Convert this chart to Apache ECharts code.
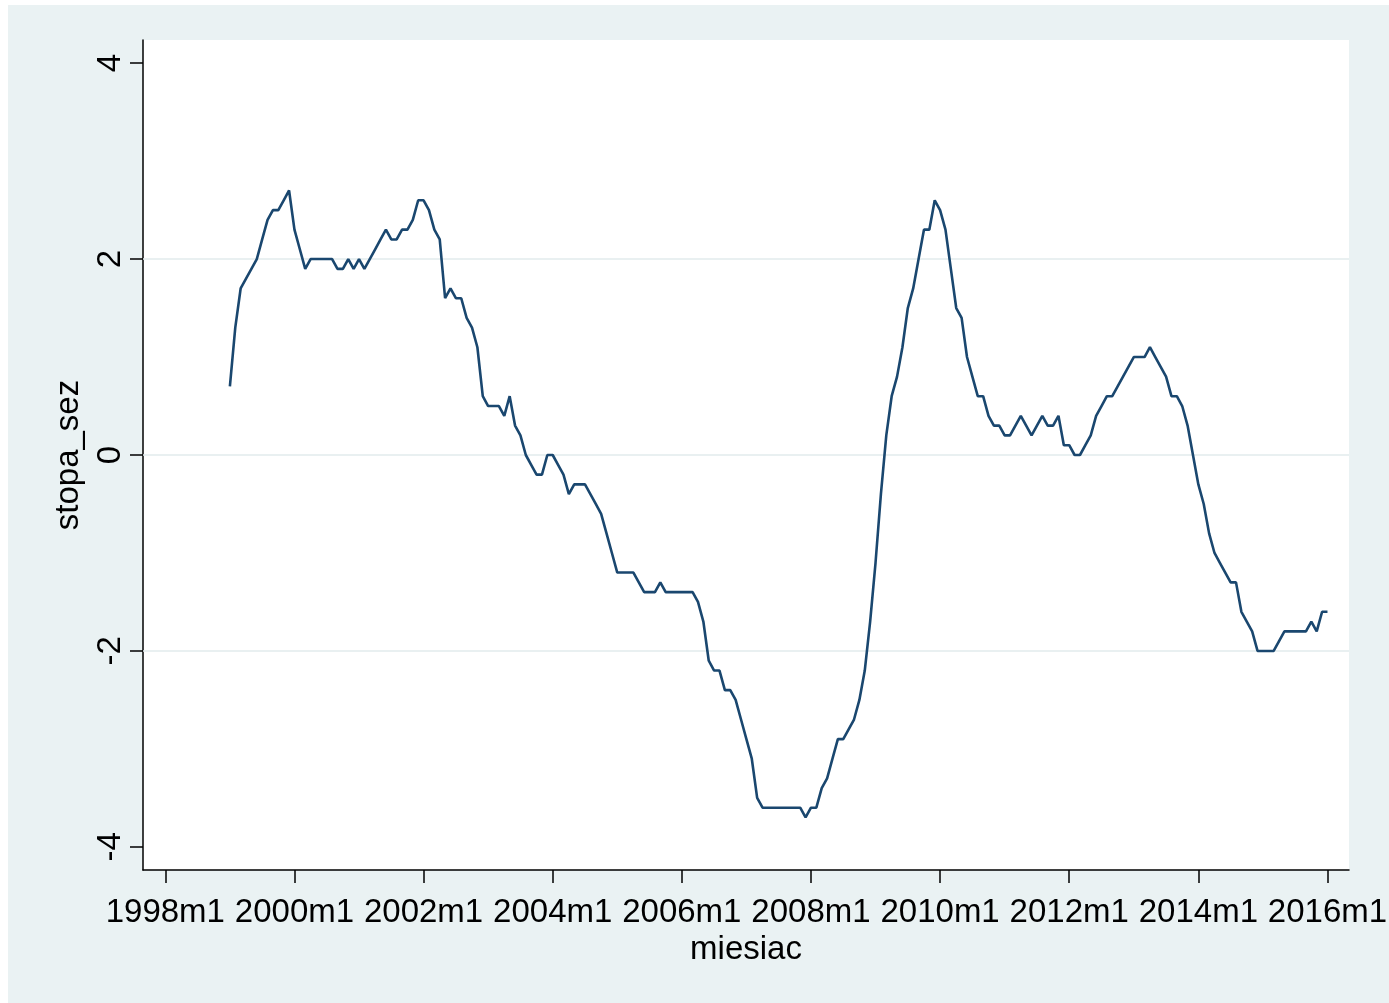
<!DOCTYPE html>
<html>
<head>
<meta charset="utf-8">
<script src="https://cdn.jsdelivr.net/npm/echarts@6/dist/echarts.min.js"></script>
<style>
html,body{margin:0;padding:0;background:#ffffff;}
#c{position:absolute;left:8px;top:5px;width:1381px;height:998px;}
</style>
</head>
<body>
<div id="c"></div>
<script>
// months counted from 1998m1 (index 0); series starts at 1999m1
const baseYear = 1998;
const firstMonthIndex = 12;

// stopa_sez, monthly, 1999m1 .. 2016m1 (one row per year)
const stopaSez = [
  0.7, 1.3, 1.7, 1.8, 1.9, 2.0, 2.2, 2.4, 2.5, 2.5, 2.6, 2.7,          // 1999
  2.3, 2.1, 1.9, 2.0, 2.0, 2.0, 2.0, 2.0, 1.9, 1.9, 2.0, 1.9,          // 2000
  2.0, 1.9, 2.0, 2.1, 2.2, 2.3, 2.2, 2.2, 2.3, 2.3, 2.4, 2.6,          // 2001
  2.6, 2.5, 2.3, 2.2, 1.6, 1.7, 1.6, 1.6, 1.4, 1.3, 1.1, 0.6,          // 2002
  0.5, 0.5, 0.5, 0.4, 0.6, 0.3, 0.2, 0.0, -0.1, -0.2, -0.2, 0.0,       // 2003
  0.0, -0.1, -0.2, -0.4, -0.3, -0.3, -0.3, -0.4, -0.5, -0.6, -0.8, -1.0, // 2004
  -1.2, -1.2, -1.2, -1.2, -1.3, -1.4, -1.4, -1.4, -1.3, -1.4, -1.4, -1.4, // 2005
  -1.4, -1.4, -1.4, -1.5, -1.7, -2.1, -2.2, -2.2, -2.4, -2.4, -2.5, -2.7, // 2006
  -2.9, -3.1, -3.5, -3.6, -3.6, -3.6, -3.6, -3.6, -3.6, -3.6, -3.6, -3.7, // 2007
  -3.6, -3.6, -3.4, -3.3, -3.1, -2.9, -2.9, -2.8, -2.7, -2.5, -2.2, -1.7, // 2008
  -1.1, -0.4, 0.2, 0.6, 0.8, 1.1, 1.5, 1.7, 2.0, 2.3, 2.3, 2.6,        // 2009
  2.5, 2.3, 1.9, 1.5, 1.4, 1.0, 0.8, 0.6, 0.6, 0.4, 0.3, 0.3,          // 2010
  0.2, 0.2, 0.3, 0.4, 0.3, 0.2, 0.3, 0.4, 0.3, 0.3, 0.4, 0.1,          // 2011
  0.1, 0.0, 0.0, 0.1, 0.2, 0.4, 0.5, 0.6, 0.6, 0.7, 0.8, 0.9,          // 2012
  1.0, 1.0, 1.0, 1.1, 1.0, 0.9, 0.8, 0.6, 0.6, 0.5, 0.3, 0.0,          // 2013
  -0.3, -0.5, -0.8, -1.0, -1.1, -1.2, -1.3, -1.3, -1.6, -1.7, -1.8, -2.0, // 2014
  -2.0, -2.0, -2.0, -1.9, -1.8, -1.8, -1.8, -1.8, -1.8, -1.7, -1.8, -1.6, // 2015
  -1.6                                                                  // 2016
];

const xTickMonths = [0, 24, 48, 72, 96, 120, 144, 168, 192, 216];
const xTickLabels = ['1998m1','2000m1','2002m1','2004m1','2006m1','2008m1','2010m1','2012m1','2014m1','2016m1'];
const yTicks = [-4, -2, 0, 2, 4];
const yGridValues = [-2, 0, 2];

const seriesData = stopaSez.map((v, i) => [firstMonthIndex + i, v]);

const FONT = '"Liberation Sans", Arial, Helvetica, sans-serif';
const chart = echarts.init(document.getElementById('c'), null, {renderer: 'canvas'});
chart.setOption({
  animation: false,
  backgroundColor: '#eaf2f3',
  grid: {
    left: 135, right: 40, top: 35, bottom: 133,
    show: true, backgroundColor: '#ffffff', borderWidth: 0,
    containLabel: false, outerBoundsMode: 'none'
  },
  xAxis: {
    type: 'value',
    min: -4.15, max: 220.0,
    name: 'miesiac',
    nameLocation: 'middle',
    nameGap: 59,
    nameTextStyle: {fontFamily: FONT, fontSize: 33, color: '#000'},
    axisLine: {show: true, onZero: false, lineStyle: {color: '#000', width: 1.5}},
    axisTick: {show: true, inside: false, length: 13, customValues: xTickMonths, lineStyle: {color: '#000', width: 1.5}},
    axisLabel: {
      show: true, margin: 26, customValues: xTickMonths,
      fontFamily: FONT, fontSize: 33, color: '#000',
      formatter: function (v) { const k = xTickMonths.indexOf(v); return k >= 0 ? xTickLabels[k] : ''; }
    },
    splitLine: {show: false}
  },
  yAxis: {
    type: 'value',
    min: -4.236, max: 4.236,
    name: 'stopa_sez',
    nameLocation: 'middle',
    nameRotate: 90,
    nameGap: 58,
    nameTextStyle: {fontFamily: FONT, fontSize: 33, color: '#000'},
    axisLine: {show: true, onZero: false, lineStyle: {color: '#000', width: 1.5}},
    axisTick: {show: true, inside: false, length: 13, customValues: yTicks, lineStyle: {color: '#000', width: 1.5}},
    axisLabel: {
      show: true, margin: 16, rotate: 90, customValues: yTicks,
      fontFamily: FONT, fontSize: 33, color: '#000',
      formatter: function (v) { return String(v); }
    },
    splitLine: {show: false}
  },
  series: [
    {
      type: 'line',
      data: [],
      zlevel: 0,
      z: 1,
      silent: true,
      markLine: {
        silent: true,
        symbol: ['none', 'none'],
        label: {show: false},
        lineStyle: {color: '#e2ebed', width: 1.5, type: 'solid'},
        data: yGridValues.map(v => ({yAxis: v}))
      }
    },
    {
      type: 'line',
      data: seriesData,
      zlevel: 1,
      z: 3,
      showSymbol: false,
      symbol: 'none',
      lineStyle: {color: '#1a476f', width: 2.6},
      itemStyle: {color: '#1a476f'}
    }
  ]
});
</script>
</body>
</html>
